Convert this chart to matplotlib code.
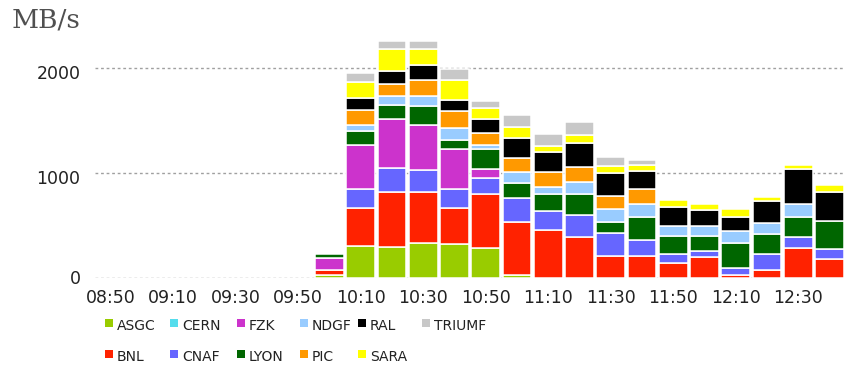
import numpy as np
import matplotlib
matplotlib.use("Agg")
import matplotlib.pyplot as plt
from matplotlib.patches import Rectangle
from matplotlib.transforms import ScaledTranslation

# Ten-minute time slots on the x axis
times = ["08:50", "09:00", "09:10", "09:20", "09:30", "09:40", "09:50",
         "10:00", "10:10", "10:20", "10:30", "10:40", "10:50", "11:00",
         "11:10", "11:20", "11:30", "11:40", "11:50", "12:00", "12:10",
         "12:20", "12:30", "12:40"]

# Transfer rate per site, MB/s (no traffic before 10:00)
idle = [0] * 7
ASGC   = idle + [24, 296, 291, 331, 318, 279, 25, 0, 0, 0, 0, 0, 0, 0, 0, 0, 0]
BNL    = idle + [48, 367, 528, 488, 342, 520, 507, 458, 382, 203, 203, 135, 198, 25, 73, 279, 175]
CERN   = idle + [0, 0, 0, 0, 0, 0, 0, 0, 0, 0, 0, 0, 0, 0, 0, 0, 0]
CNAF   = idle + [0, 177, 223, 205, 186, 155, 227, 181, 214, 219, 152, 87, 55, 64, 149, 112, 95]
FZK    = idle + [111, 427, 468, 431, 378, 84, 0, 0, 0, 0, 0, 0, 0, 0, 0, 0, 0]
LYON   = idle + [41, 128, 139, 177, 91, 190, 147, 160, 203, 112, 218, 176, 143, 242, 193, 182, 266]
NDGF   = idle + [0, 58, 81, 98, 107, 34, 96, 69, 115, 118, 124, 95, 95, 111, 103, 128, 0]
PIC    = idle + [0, 145, 113, 159, 165, 119, 135, 134, 140, 124, 150, 0, 0, 0, 0, 0, 0]
RAL    = idle + [0, 112, 129, 139, 102, 127, 196, 193, 234, 218, 171, 178, 153, 133, 212, 336, 282]
SARA   = idle + [0, 158, 211, 155, 200, 114, 101, 58, 75, 70, 51, 73, 62, 74, 38, 41, 69]
TRIUMF = idle + [0, 87, 74, 74, 104, 62, 114, 113, 118, 88, 52, 0, 0, 0, 0, 0, 0]

sites = ["ASGC", "BNL", "CERN", "CNAF", "FZK", "LYON", "NDGF", "PIC", "RAL", "SARA", "TRIUMF"]
series = [ASGC, BNL, CERN, CNAF, FZK, LYON, NDGF, PIC, RAL, SARA, TRIUMF]
colors = ["#99cc00", "#ff2200", "#55dded", "#6666ff", "#cc33cc", "#006600",
          "#99ccff", "#ff9900", "#000000", "#ffff00", "#c8c8c8"]

yticks = [0, 1000, 2000]
tick_every = 2

W, H = 847, 365
fig = plt.figure(figsize=(W / 100, H / 100), dpi=100)
ax = fig.add_axes([95 / W, 87.5 / H, 750 / W, 2450 * 0.1048 / H])

x = np.arange(len(times))
bottom = np.zeros(len(times))
for name, vals, col in zip(sites, series, colors):
    v = np.asarray(vals, dtype=float)
    h = np.where(v > 0, v, np.nan)
    ax.bar(x, h, bottom=bottom, width=0.92, color=col,
           edgecolor="white", linewidth=1.1, label=name, zorder=2)
    bottom += v

ax.set_xlim(-0.5, len(times) - 0.5)
ax.set_ylim(0, 2450)

# dotted horizontal guides
for yv in yticks:
    ax.axhline(yv, color="#a0a0a0", linewidth=1.0, linestyle=(0, (2, 2)), zorder=1)

for s in ax.spines.values():
    s.set_visible(False)
ax.set_xticks(x[::tick_every])
ax.set_xticklabels(times[::tick_every])
ax.set_yticks(yticks)
ax.set_yticklabels([str(t) for t in yticks])
ax.tick_params(axis="both", length=0, labelsize=12.5, colors="#222222")
ax.tick_params(axis="x", pad=8)
ax.tick_params(axis="y", pad=10.5)
for lbl, val in zip(ax.get_yticklabels(), yticks):
    if val > 0:
        lbl.set_transform(lbl.get_transform() + ScaledTranslation(0, -4 / 100, fig.dpi_scale_trans))

fig.text(12 / W, 1 - 7 / H, "MB/s", family="DejaVu Serif", fontsize=19,
         color="#505050", ha="left", va="top")

# legend: two rows, swatch + site name
col_x = [105, 170, 237, 300, 358, 422]
row_y = [323, 354]
order = [("ASGC", 0, 0), ("CERN", 1, 0), ("FZK", 2, 0), ("NDGF", 3, 0), ("RAL", 4, 0), ("TRIUMF", 5, 0),
         ("BNL", 0, 1), ("CNAF", 1, 1), ("LYON", 2, 1), ("PIC", 3, 1), ("SARA", 4, 1)]
sw = 8
for name, c, r in order:
    col = colors[sites.index(name)]
    px, py = col_x[c], row_y[r]
    fig.add_artist(Rectangle((px / W, 1 - (py + sw / 2) / H), sw / W, sw / H,
                             transform=fig.transFigure, facecolor=col, edgecolor="none"))
    fig.text((px + 12) / W, 1 - (py + 3) / H, name, fontsize=10, color="#222222",
             ha="left", va="center")

fig.savefig("out.png", dpi=100, facecolor="white")
